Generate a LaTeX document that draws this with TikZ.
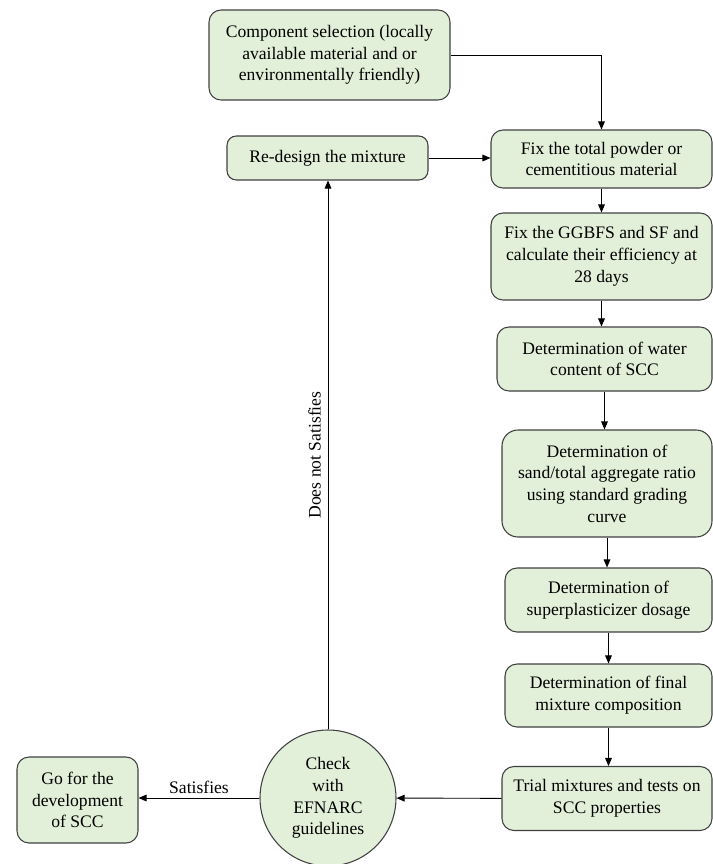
\documentclass[tikz,border=0pt]{standalone}
\usepackage{fontspec}
\setmainfont{Liberation Serif}
\usetikzlibrary{arrows.meta}
\definecolor{boxgreen}{HTML}{E2EFD9}
\definecolor{boxline}{HTML}{404040}

\begin{document}
\begin{tikzpicture}[x=0.75pt,y=-0.75pt,
  font=\fontsize{13.2}{16.3}\selectfont,
  box/.style={draw=boxline,fill=boxgreen,rounded corners=9pt,align=center,inner sep=2pt,line width=0.8pt},
  arr/.style={-{Triangle[length=6pt,width=5pt]},line width=0.7pt}]
  \useasboundingbox (0,0) rectangle (713,864);
  \node[box,minimum width=180.75pt,minimum height=67.5pt] (comp) at (329.5,55)
    {Component selection (locally\\available material and or\\environmentally friendly)};
  \node[box,minimum width=150.75pt,minimum height=33pt,rounded corners=7pt] (redesign) at (327.5,158)
    {Re-design the mixture};
  \node[box,minimum width=165.75pt,minimum height=43.5pt] (fixtotal) at (601.5,159)
    {Fix the total powder or\\cementitious material};
  \node[box,minimum width=165.75pt,minimum height=65.25pt] (ggbfs) at (601.5,256.5)
    {Fix the GGBFS and SF and\\calculate their efficiency at\\28 days};
  \node[box,minimum width=161.25pt,minimum height=48pt] (water) at (604.5,359)
    {Determination of water\\content of SCC};
  \node[box,minimum width=157.5pt,minimum height=80.25pt,rounded corners=12pt] (sand) at (607,483.5)
    {Determination of\\sand/total aggregate ratio\\using standard grading\\curve};
  \node[box,minimum width=155.25pt,minimum height=48pt] (superp) at (608.5,600)
    {Determination of\\superplasticizer dosage};
  \node[box,minimum width=155.25pt,minimum height=47.25pt] (final) at (608.5,695.5)
    {Determination of final\\mixture composition};
  \node[box,minimum width=157.5pt,minimum height=48pt] (trial) at (607,798.5)
    {Trial mixtures and tests on\\SCC properties};
  \node[box,circle,minimum size=102pt,inner sep=0pt] (check) at (328,798)
    {Check\\with\\EFNARC\\guidelines};
  \node[box,minimum width=90.75pt,minimum height=64.5pt] (go) at (77.5,800)
    {Go for the\\development\\of SCC};

  \draw[arr] (comp.east) -| (fixtotal.north);
  \draw[arr] (redesign) -- (redesign -| fixtotal.west);
  \draw[arr] (fixtotal) -- (fixtotal |- ggbfs.north);
  \draw[arr] (ggbfs) -- (ggbfs |- water.north);
  \draw[arr] (water) -- (water |- sand.north);
  \draw[arr] (sand) -- (sand |- superp.north);
  \draw[arr] (superp) -- (superp |- final.north);
  \draw[arr] (final) -- (final |- trial.north);
  \draw[arr] (trial) -- (check);
  \draw[arr] (check) -- node[pos=0.5,rotate=90,anchor=south,inner sep=5pt] (nosat) {Does not Satisfies}
    (check |- redesign.south);
  \draw[arr] (check) -- node[above,inner sep=3pt] (sat) {Satisfies} (check -| go.east);
\end{tikzpicture}
\end{document}
